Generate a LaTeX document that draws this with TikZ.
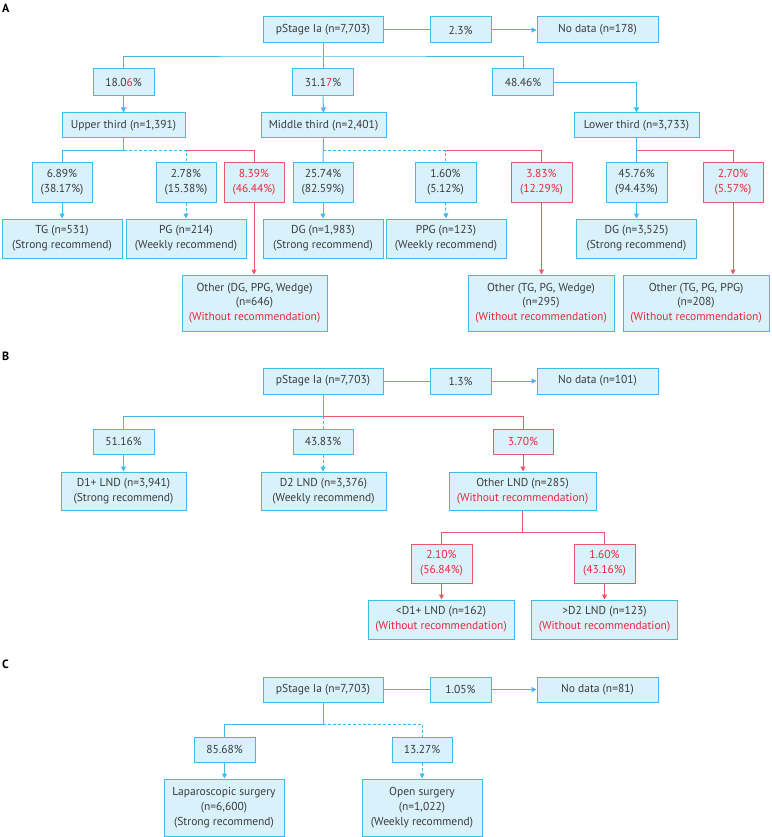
\documentclass[tikz,border=0pt]{standalone}
\usepackage{fontspec}
\setmainfont{PT Sans}
\usetikzlibrary{arrows.meta}
\definecolor{bfill}{HTML}{D8F1FA}
\definecolor{bline}{HTML}{3DBBEA}
\definecolor{rline}{HTML}{EC5A68}
\definecolor{rtext}{HTML}{E8293A}
\definecolor{tgray}{HTML}{3C3C3C}
\tikzset{
 box/.style={draw=bline, fill=bfill, line width=1pt, inner sep=0pt, align=center, text=tgray, font=\fontsize{11.5}{14.7}\selectfont},
 rbox/.style={box, draw=rline, text=rtext},
 sz/.style 2 args={minimum width=#1pt, minimum height=#2pt},
 con/.style={draw=bline, line width=1pt},
 dcon/.style={con, dash pattern=on 3pt off 2pt},
 rcon/.style={draw=rline, line width=1pt},
 arr/.style={-{Triangle[length=5pt,width=5pt]}},
 lbl/.style={font=\bfseries\fontsize{12}{12}\selectfont, anchor=west, inner sep=0pt, text=black}
}
\newcommand{\rt}[1]{\textcolor{rtext}{#1}}
\begin{document}
\begin{tikzpicture}[x=1pt,y=-1pt]
\useasboundingbox[fill=white] (0,0) rectangle (771,837);
% ---------------- A
\node[lbl] (labA) at (2,8) {A};
\node[box,sz={120}{26}] (pA) at (323,30) {pStage Ia (n=7,703)};
\node[box,sz={61}{26}] (p23) at (460.5,30) {2.3\%};
\node[box,sz={121}{26}] (ndA) at (597.5,30) {No data (n=178)};
\draw[con] (pA.east) -- (p23.west);
\draw[con,arr] (p23.east) -- (ndA.west);
\node[box,sz={61}{27}] (a18) at (123.5,82.5) {18.0\rt{6}\%};
\node[box,sz={61}{27}] (a31) at (323,82.5) {31.1\rt{7}\%};
\node[box,sz={61}{27}] (a48) at (523,82.5) {48.46\%};
\coordinate (jA) at (323,57);
\draw[con] (pA.south) -- (a31.north);
\draw[con] (a18.north) |- (jA) -| (a48.north);
\node[box,sz={123}{25}] (up) at (123.5,125.5) {Upper third (n=1,391)};
\node[box,sz={125}{25}] (mid) at (323.5,125.5) {Middle third (n=2,401)};
\node[box,sz={125}{25}] (low) at (636.5,125.5) {Lower third (n=3,733)};
\draw[con,arr] (a18.south) -- (up.north);
\draw[con,arr] (a31.south) -- (mid.north);
\draw[con,arr] (a48.east) -| (low.north);
% row 3
\node[box,sz={60}{39}] (c689) at (62,182.5) {6.89\%\\(38.17\%)};
\node[box,sz={60}{39}] (c278) at (186,182.5) {2.78\%\\(15.38\%)};
\node[rbox,sz={60}{39}] (c839) at (254,182.5) {8.39\%\\(46.44\%)};
\node[box,sz={60}{39}] (c2574) at (323,182.5) {25.74\%\\(82.59\%)};
\node[box,sz={61}{39}] (c160) at (445.5,182.5) {1.60\%\\(5.12\%)};
\node[rbox,sz={61}{39}] (c383) at (541.5,182.5) {3.83\%\\(12.29\%)};
\node[box,sz={61}{39}] (c4576) at (636.5,182.5) {45.76\%\\(94.43\%)};
\node[rbox,sz={60}{39}] (c270) at (733,182.5) {2.70\%\\(5.57\%)};
\coordinate (jU) at (123.5,151);
\coordinate (jM) at (323,151);
\coordinate (jL) at (636.5,151);
\draw[con] (up.south) -- (jU) -| (c689.north);
\draw[dcon] (jU) -| (c278.north);
\draw[rcon] (jU -| c278.north) -| (c839.north);
\draw[con] (mid.south) -- (c2574.north);
\draw[dcon] (jM) -| (c160.north);
\draw[rcon] (jM -| c160.north) -| (c383.north);
\draw[con] (low.south) -- (c4576.north);
\draw[rcon] (jL) -| (c270.north);
% row 4
\node[box,sz={120}{39}] (tg) at (62,238.5) {TG (n=531)\\(Strong recommend)};
\node[box,sz={120}{39}] (pg) at (186,238.5) {PG (n=214)\\(Weekly recommend)};
\node[box,sz={120}{39}] (dg1) at (323,238.5) {DG (n=1,983)\\(Strong recommend)};
\node[box,sz={120}{39}] (ppg) at (446,238.5) {PPG (n=123)\\(Weekly recommend)};
\node[box,sz={120}{39}] (dg2) at (636.5,238.5) {DG (n=3,525)\\(Strong recommend)};
\draw[con,arr] (c689.south) -- (tg.north);
\draw[dcon,arr] (c278.south) -- (pg.north);
\draw[con,arr] (c2574.south) -- (dg1.north);
\draw[dcon,arr] (c160.south) -- (ppg.north);
\draw[con,arr] (c4576.south) -- (dg2.north);
% row 5
\node[box,sz={145}{56}] (o1) at (254.5,303) {Other (DG, PPG, Wedge)\\(n=646)\\\rt{(Without recommendation)}};
\node[box,sz={146}{56}] (o2) at (541,303) {Other (TG, PG, Wedge)\\(n=295)\\\rt{(Without recommendation)}};
\node[box,sz={146}{56}] (o3) at (696,303) {Other (TG, PG, PPG)\\(n=208)\\\rt{(Without recommendation)}};
\draw[rcon,arr] (c839.south) -- (c839.south |- o1.north);
\draw[rcon,arr] (c383.south) -- (c383.south |- o2.north);
\draw[rcon,arr] (c270.south) -- (c270.south |- o3.north);
% ---------------- B
\node[lbl] (labB) at (2,356) {B};
\node[box,sz={120}{26}] (pB) at (323,381) {pStage Ia (n=7,703)};
\node[box,sz={61}{26}] (p13) at (460.5,381) {1.3\%};
\node[box,sz={121}{26}] (ndB) at (597.5,381) {No data (n=101)};
\draw[con] (pB.east) -- (p13.west);
\draw[con,arr] (p13.east) -- (ndB.west);
\node[box,sz={61}{25}] (b5116) at (123.5,441.5) {51.16\%};
\node[box,sz={60}{25}] (b4383) at (323,441.5) {43.83\%};
\node[rbox,sz={60}{25}] (b370) at (523,441.5) {3.70\%};
\coordinate (jB) at (323,416);
\draw[con] (pB.south) -- (jB) -| (b5116.north);
\draw[dcon] (jB) -- (b4383.north);
\draw[rcon] (jB) -| (b370.north);
\node[box,sz={125}{38}] (d1) at (123.5,491) {D1+ LND (n=3,941)\\(Strong recommend)};
\node[box,sz={125}{38}] (d2) at (323.5,491) {D2 LND (n=3,376)\\(Weekly recommend)};
\node[box,sz={147}{38}] (olnd) at (522.5,491) {Other LND (n=285)\\\rt{(Without recommendation)}};
\draw[con,arr] (b5116.south) -- (b5116.south |- d1.north);
\draw[dcon,arr] (b4383.south) -- (b4383.south |- d2.north);
\draw[rcon,arr] (b370.south) -- (b370.south |- olnd.north);
\node[rbox,sz={61}{39}] (b210) at (441.5,563.5) {2.10\%\\(56.84\%)};
\node[rbox,sz={61}{39}] (b160) at (604.5,563.5) {1.60\%\\(43.16\%)};
\coordinate (jO) at (522.5,532);
\draw[rcon] (olnd.south) -- (jO) -| (b210.north);
\draw[rcon] (jO) -| (b160.north);
\node[box,sz={146}{39}] (lt) at (441,619.5) {<D1+ LND (n=162)\\\rt{(Without recommendation)}};
\node[box,sz={146}{39}] (gt) at (604.5,619.5) {>D2 LND (n=123)\\\rt{(Without recommendation)}};
\draw[rcon,arr] (b210.south) -- (b210.south |- lt.north);
\draw[rcon,arr] (b160.south) -- (b160.south |- gt.north);
% ---------------- C
\node[lbl] (labC) at (2,664) {C};
\node[box,sz={120}{25}] (pC) at (323,689.5) {pStage Ia (n=7,703)};
\node[box,sz={61}{25}] (p105) at (460.5,689.5) {1.05\%};
\node[box,sz={121}{25}] (ndC) at (597.5,689.5) {No data (n=81)};
\draw[con] (pC.east) -- (p105.west);
\draw[con,arr] (p105.east) -- (ndC.west);
\node[box,sz={61}{25}] (c8568) at (224.5,749.5) {85.68\%};
\node[box,sz={60}{25}] (c1327) at (422,749.5) {13.27\%};
\coordinate (jC) at (323,724);
\draw[con] (pC.south) -- (jC) -| (c8568.north);
\draw[dcon] (jC) -| (c1327.north);
\node[box,sz={120}{57}] (lap) at (224,807.5) {Laparoscopic surgery\\(n=6,600)\\(Strong recommend)};
\node[box,sz={120}{57}] (open) at (422,807.5) {Open surgery\\(n=1,022)\\(Weekly recommend)};
\draw[con,arr] (c8568.south) -- (c8568.south |- lap.north);
\draw[dcon,arr] (c1327.south) -- (c1327.south |- open.north);
\end{tikzpicture}
\end{document}
